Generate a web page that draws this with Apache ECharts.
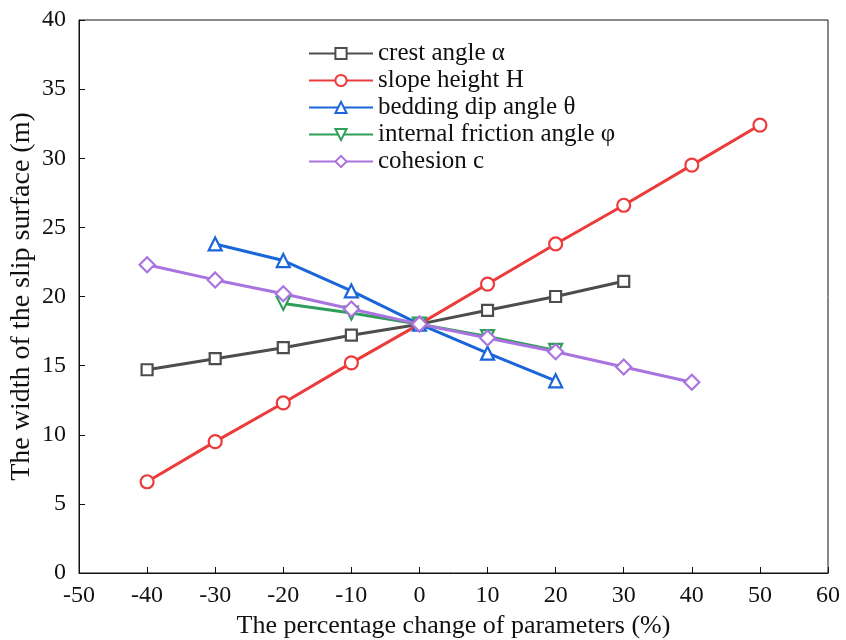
<!DOCTYPE html>
<html><head><meta charset="utf-8">
<script src="https://cdn.jsdelivr.net/npm/echarts@6/dist/echarts.min.js"></script>
<style>html,body{margin:0;padding:0;background:#fff}#c{width:846px;height:640px}</style>
</head><body><div id="c"></div>
<script>
const names = ['crest angle α','slope height H','bedding dip angle θ','internal friction angle φ','cohesion c'];
const crestX = [-40,-30,-20,-10,0,10,20,30];
const crestY = [14.7,15.5,16.3,17.2,18.0,19.0,20.0,21.1];
const heightX = [-40,-30,-20,-10,0,10,20,30,40,50];
const heightY = [6.6,9.5,12.3,15.2,18.0,20.9,23.8,26.6,29.5,32.4];
const dipX = [-30,-20,-10,0,10,20];
const dipY = [23.8,22.6,20.4,18.0,15.9,13.9];
const fricX = [-20,-10,0,10,20];
const fricY = [19.5,18.8,18.0,17.1,16.1];
const cohX = [-40,-30,-20,-10,0,10,20,30,40];
const cohY = [22.3,21.2,20.2,19.1,18.0,17.0,16.0,14.9,13.8];
const colors = ['#4d4d4d','#ec3b3b','#1a66d9','#2e9e58','#a974e0'];
const symbols = ['rect','circle','triangle','path://M0,0 L10,0 L5,9 Z','diamond'];
const xs = [crestX,heightX,dipX,fricX,cohX];
const ys = [crestY,heightY,dipY,fricY,cohY];
const font = '"Liberation Serif", "Times New Roman", serif';
const chart = echarts.init(document.getElementById('c'));
chart.setOption({
  animation:false,
  textStyle:{fontFamily:font},
  grid:{left:79,right:18,top:20,bottom:67,containLabel:false,outerBoundsMode:'none'},
  legend:{orient:'vertical',left:303,top:36,itemGap:2,itemWidth:64,itemHeight:14,
    textStyle:{fontFamily:font,fontSize:25,color:'#111'},data:names},
  xAxis:{type:'value',min:-50,max:60,interval:10,
    name:'The percentage change of parameters (%)',nameLocation:'middle',nameGap:40,nameMoveOverlap:false,
    nameTextStyle:{fontFamily:font,fontSize:26,color:'#111'},
    axisLine:{show:true,onZero:false,lineStyle:{color:'#111',width:1}},
    axisTick:{show:true,inside:true,length:6,lineStyle:{color:'#111'}},
    axisLabel:{fontFamily:font,fontSize:24,color:'#111',margin:11},
    splitLine:{show:false}},
  yAxis:{type:'value',min:0,max:40,interval:5,
    name:'The width of the slip surface (m)',nameLocation:'middle',nameGap:43,nameMoveOverlap:false,
    nameTextStyle:{fontFamily:font,fontSize:28,color:'#111'},
    axisLine:{show:true,onZero:false,lineStyle:{color:'#111',width:1}},
    axisTick:{show:true,inside:true,length:6,lineStyle:{color:'#111'}},
    axisLabel:{fontFamily:font,fontSize:24,color:'#111',margin:13},
    splitLine:{show:false}},
  graphic:[{type:'rect',shape:{x:79,y:20,width:749,height:553},style:{fill:'none',stroke:'#111',lineWidth:1},silent:true,z:-1}],
  series: names.map((n,i)=>({
    name:n,type:'line',
    data: xs[i].map((x,j)=>[x,ys[i][j]]),
    symbol:symbols[i],
    symbolSize: i===0?11:(i===4?15:13),
    showAllSymbol:true,
    lineStyle:{color:colors[i],width:3},
    itemStyle:{color:'#fff',borderColor:colors[i],borderWidth:2.2},
    emphasis:{disabled:true}
  }))
});
</script></body></html>
